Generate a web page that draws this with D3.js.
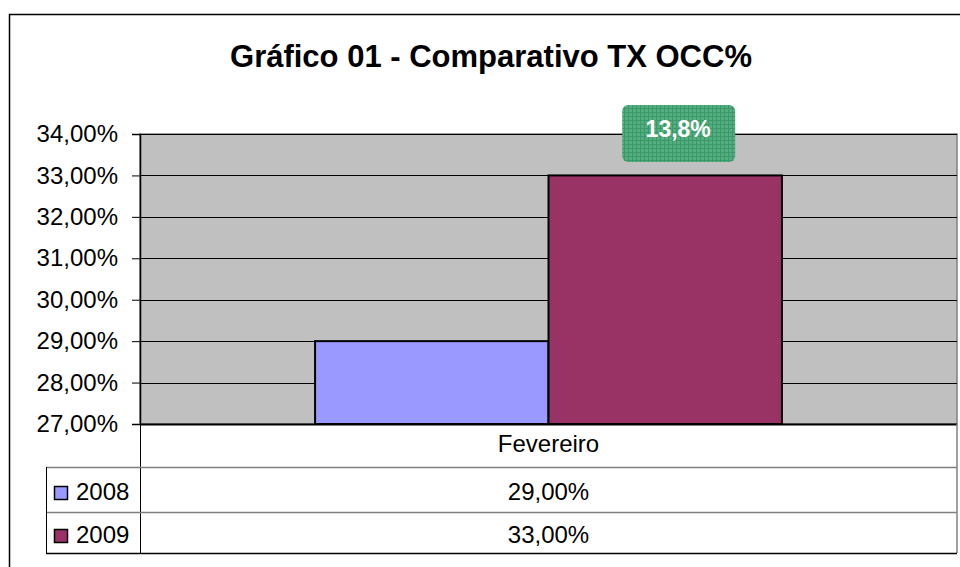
<!DOCTYPE html>
<html lang="pt">
<head>
<meta charset="UTF-8">
<title>Gráfico 01 - Comparativo TX OCC%</title>
<script src="https://d3js.org/d3.v7.min.js"></script>
<style>
  body { margin: 0; background: #fff; font-family: "Liberation Sans", Arial, sans-serif; }
</style>
</head>
<body>
<div id="chart"></div>
<script>
// data
const categories = ["Fevereiro"];
const seriesNames = ["2008", "2009"];
const values2008 = [0.29];
const values2009 = [0.33];
const yTicks = [0.27, 0.28, 0.29, 0.30, 0.31, 0.32, 0.33, 0.34];
const annotation = "13,8%";

const colors = { "2008": "#9999FF", "2009": "#993366" };
const seriesValues = { "2008": values2008, "2009": values2009 };

const W = 960, H = 567;
const plot = { left: 140, right: 957, top: 134, bottom: 424 };
const rowH = [43, 45, 41]; // data table rows
const legendLeft = 46;

const fmt = v => d3.format(".2f")(v * 100).replace(".", ",") + "%";

const svg = d3.select("#chart").append("svg")
  .attr("width", W).attr("height", H)
  .attr("font-family", "'Liberation Sans', Arial, sans-serif");

// hatch pattern for the label box
const defs = svg.append("defs");
const pat = defs.append("pattern").attr("id", "hatch")
  .attr("width", 4).attr("height", 4).attr("patternUnits", "userSpaceOnUse");
pat.append("rect").attr("width", 4).attr("height", 4).attr("fill", "#52ad80");
pat.append("path").attr("d", "M0,0.5H4M0.5,0V4").attr("stroke", "#3d9867").attr("stroke-width", 1);

// outer border
svg.append("rect")
  .attr("x", 9.5).attr("y", 14.5).attr("width", W + 20).attr("height", H + 20)
  .attr("fill", "#fff").attr("stroke", "#000").attr("stroke-width", 1.5);

// title
svg.append("text")
  .attr("x", 491).attr("y", 67)
  .attr("text-anchor", "middle")
  .attr("font-size", 31).attr("font-weight", "bold")
  .text("Gráfico 01 - Comparativo TX OCC%");

const y = d3.scaleLinear().domain([0.27, 0.34]).range([plot.bottom, plot.top]);
const x = d3.scaleBand().domain(categories).range([plot.left, plot.right]).paddingInner(0).paddingOuter(0);
const xs = d3.scaleBand().domain(seriesNames).range([0, x.bandwidth()]).paddingOuter(0.75).paddingInner(0);

// plot background
svg.append("rect")
  .attr("x", plot.left).attr("y", plot.top)
  .attr("width", plot.right - plot.left).attr("height", plot.bottom - plot.top)
  .attr("fill", "#C0C0C0").attr("stroke", "#808080").attr("stroke-width", 1.5);

// gridlines
svg.append("g").selectAll("line").data(yTicks.slice(1))
  .join("line")
  .attr("x1", plot.left).attr("x2", plot.right)
  .attr("y1", d => Math.round(y(d)) + 0.5).attr("y2", d => Math.round(y(d)) + 0.5)
  .attr("stroke", "#000").attr("stroke-width", 1);

// bars
const groups = svg.append("g").selectAll("g").data(categories)
  .join("g").attr("transform", d => `translate(${x(d)},0)`);
seriesNames.forEach(s => {
  groups.append("rect")
    .attr("x", () => xs(s))
    .attr("y", (d, i) => y(seriesValues[s][i]))
    .attr("width", xs.bandwidth())
    .attr("height", (d, i) => y(0.27) - y(seriesValues[s][i]))
    .attr("fill", colors[s])
    .attr("stroke", "#000").attr("stroke-width", 2);
});

// y axis
const yAxis = svg.append("g")
  .attr("transform", `translate(${plot.left},0)`)
  .call(d3.axisLeft(y).tickValues(yTicks).tickFormat(fmt).tickSize(8).tickPadding(14));
yAxis.select(".domain").attr("stroke", "#000").attr("stroke-width", 1.5);
yAxis.selectAll(".tick line").attr("stroke", "#000");
yAxis.selectAll(".tick text")
  .attr("font-family", "'Liberation Sans', Arial, sans-serif")
  .attr("font-size", 24).attr("fill", "#000");

// bottom axis line
svg.append("line")
  .attr("x1", plot.left).attr("x2", plot.right)
  .attr("y1", plot.bottom + 0.5).attr("y2", plot.bottom + 0.5)
  .attr("stroke", "#000").attr("stroke-width", 2);

// data table
const r1 = plot.bottom, r2 = r1 + rowH[0], r3 = r2 + rowH[1], r4 = r3 + rowH[2];
const tbl = svg.append("g").attr("stroke", "#000").attr("stroke-width", 1);
tbl.append("line").attr("x1", plot.left + 0.5).attr("x2", plot.left + 0.5).attr("y1", plot.bottom).attr("y2", r4);
tbl.append("line").attr("x1", plot.right).attr("x2", plot.right).attr("y1", plot.bottom).attr("y2", r4).attr("stroke", "#808080").attr("stroke-width", 1.5);
tbl.append("line").attr("x1", legendLeft).attr("x2", plot.right).attr("y1", r2 + 0.5).attr("y2", r2 + 0.5).attr("stroke", "#808080").attr("stroke-width", 1.5);
tbl.append("line").attr("x1", legendLeft).attr("x2", plot.right).attr("y1", r3 + 0.5).attr("y2", r3 + 0.5).attr("stroke", "#808080").attr("stroke-width", 1.5);
tbl.append("line").attr("x1", legendLeft + 0.5).attr("x2", legendLeft + 0.5).attr("y1", r2).attr("y2", r4);
tbl.append("line").attr("x1", legendLeft).attr("x2", plot.right).attr("y1", r4 + 0.5).attr("y2", r4 + 0.5).attr("stroke-width", 1.5);

svg.append("text")
  .attr("x", x("Fevereiro") + x.bandwidth() / 2).attr("y", r1 + 28)
  .attr("text-anchor", "middle").attr("font-size", 24)
  .text(categories[0]);

const rowsTop = [r2, r3];
const rowsH = [rowH[1], rowH[2]];
seriesNames.forEach((s, i) => {
  const mid = rowsTop[i] + rowsH[i] / 2;
  svg.append("rect")
    .attr("x", 54.5).attr("y", mid - 3).attr("width", 13).attr("height", 13)
    .attr("fill", colors[s]).attr("stroke", "#000").attr("stroke-width", 1.5);
  svg.append("text")
    .attr("x", 76).attr("y", mid + 10.5)
    .attr("font-size", 24).text(s);
  svg.append("text")
    .attr("x", x("Fevereiro") + x.bandwidth() / 2).attr("y", mid + 10.5)
    .attr("text-anchor", "middle").attr("font-size", 24)
    .text(fmt(seriesValues[s][0]));
});

// annotation label above the 2009 bar
const ax = x("Fevereiro") + xs("2009") + xs.bandwidth() / 2 + 13;
svg.append("rect")
  .attr("x", ax - 56).attr("y", 105).attr("width", 113).attr("height", 57)
  .attr("rx", 6).attr("fill", "url(#hatch)");
svg.append("text")
  .attr("x", ax).attr("y", 137)
  .attr("text-anchor", "middle").attr("font-size", 23).attr("font-weight", "bold")
  .attr("fill", "#fff").text(annotation);
</script>
</body>
</html>
